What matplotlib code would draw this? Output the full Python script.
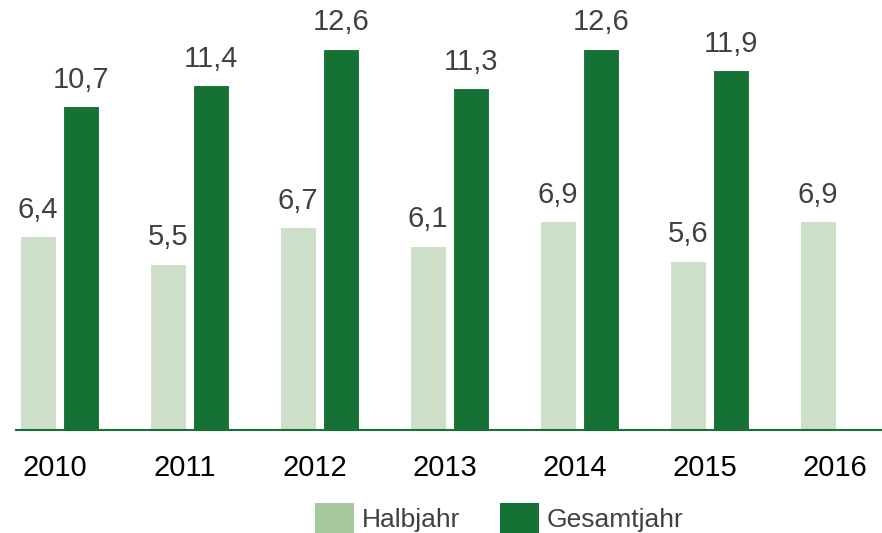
import numpy as np
import matplotlib.pyplot as plt
from matplotlib.patches import Patch

plt.rcParams['font.family'] = ['Liberation Sans', 'DejaVu Sans']

years = ['2010', '2011', '2012', '2013', '2014', '2015', '2016']
halbjahr = [6.4, 5.5, 6.7, 6.1, 6.9, 5.6, 6.9]
gesamtjahr = [10.7, 11.4, 12.6, 11.3, 12.6, 11.9, None]

light = '#cddfc8'
dark = '#167234'
txt = '#404040'

fig = plt.figure(figsize=(8.82, 5.33), dpi=100)
ax = fig.add_axes([16 / 882, 103 / 533, 866 / 882, 430 / 533])

x = np.arange(len(years))
w = 36 / 130
off = 21.5 / 130

for i, v in enumerate(halbjahr):
    ax.bar(x[i] - off, v, width=w, color=light, edgecolor='white', linewidth=0.8)
    ax.annotate(f'{v}'.replace('.', ','), (x[i] - off, v), xytext=(0, 9),
                textcoords='offset points', ha='center', va='bottom',
                fontsize=21, color=txt)
for i, v in enumerate(gesamtjahr):
    if v is None:
        continue
    ax.bar(x[i] + off, v, width=w, color=dark, edgecolor='white', linewidth=0.8)
    ax.annotate(f'{v}'.replace('.', ','), (x[i] + off, v), xytext=(0, 9),
                textcoords='offset points', ha='center', va='bottom',
                fontsize=21, color=txt)

ax.set_xlim((16 - 59.5) / 130, (882 - 59.5) / 130)
ax.set_ylim(0, 430 / 30.24)
ax.set_xticks(x - 4.5 / 130)
ax.set_xticklabels(years, fontsize=21, color='black')
ax.tick_params(axis='x', length=0, pad=17)
ax.set_yticks([])
for s in ['top', 'right', 'left']:
    ax.spines[s].set_visible(False)
ax.spines['bottom'].set_color(dark)
ax.spines['bottom'].set_linewidth(1.5)

handles = [Patch(facecolor='#a8c99e', label='Halbjahr'),
           Patch(facecolor=dark, label='Gesamtjahr')]
fig.legend(handles=handles, loc='center', bbox_to_anchor=(0.566, 0.028),
           ncol=2, frameon=False, fontsize=19, handlelength=1.48,
           handleheight=1.36, handletextpad=0.3, columnspacing=1.48,
           labelcolor=txt)

fig.savefig('out.png', dpi=100)
